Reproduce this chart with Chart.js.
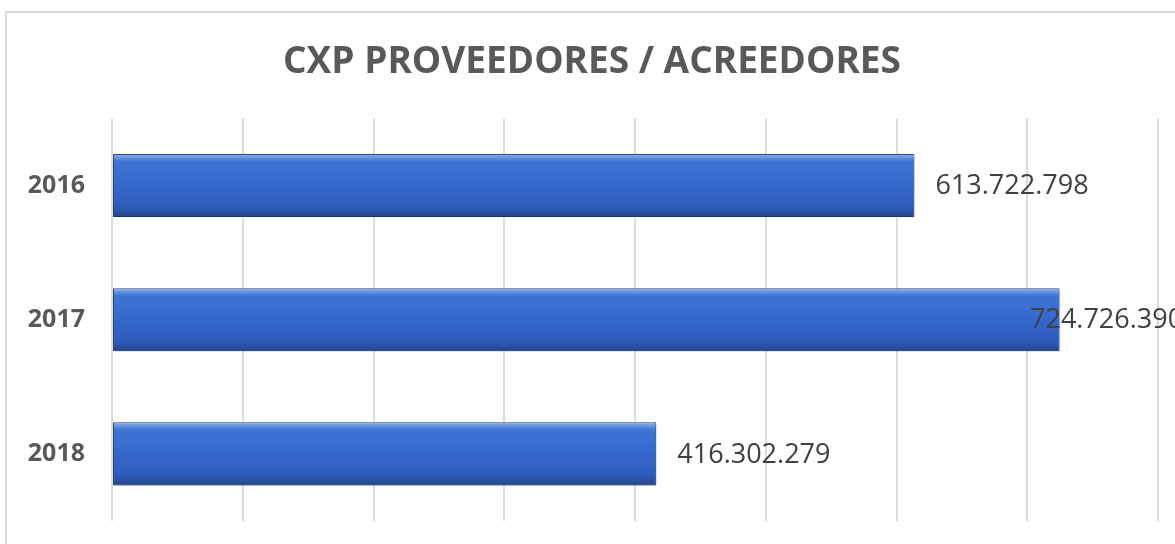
<!DOCTYPE html>
<html lang="es">
  <head>
    <meta charset="UTF-8" />
    <title>CXP Proveedores / Acreedores</title>
    <script src="https://cdn.jsdelivr.net/npm/chart.js"></script>
    <style>
      body {
        margin: 0;
        padding: 0;
        background-color: #fff;
        overflow: hidden;
        font-family: "Open Sans", sans-serif;
      }

      .frame {
        position: absolute;
        left: 5px;
        top: 11px;
        width: 1300px;
        height: 700px;
        border: 2px solid #d9d9d9;
      }

      .chart-container {
        position: absolute;
        left: 0;
        top: 0;
        width: 1175px;
        height: 544px;
      }
    </style>
  </head>
  <body>
    <div class="frame"></div>
    <div class="chart-container">
      <canvas id="cxp-chart" width="1175" height="544"></canvas>
    </div>

    <script>
      const years = ["2016", "2017", "2018"];
      const amounts = [613722798, 724726390, 416302279];
      const axisMax = 800000000;
      const axisStep = 100000000;

      const BAR_PCT = 0.47;
      const CAT_PCT = 1;

      function formatAmount(v) {
        return String(v).replace(/\B(?=(\d{3})+(?!\d))/g, ".");
      }

      function barGradient(c) {
        const chart = c.chart;
        if (!chart.chartArea) return "#3366cc";
        const ys = chart.scales.y;
        const band = (ys.bottom - ys.top) / years.length;
        const thick = band * CAT_PCT * BAR_PCT;
        const cy = ys.getPixelForValue(c.dataIndex);
        const g = chart.ctx.createLinearGradient(0, cy - thick / 2, 0, cy + thick / 2);
        g.addColorStop(0, "#8db3f0");
        g.addColorStop(0.05, "#6a98e6");
        g.addColorStop(0.12, "#3f74d6");
        g.addColorStop(0.5, "#3568cc");
        g.addColorStop(0.84, "#2e5cbb");
        g.addColorStop(0.93, "#2a4f9e");
        g.addColorStop(1, "#22427f");
        return g;
      }

      // soft shadow under the bars
      const barShadow = {
        id: "barShadow",
        beforeDatasetsDraw(chart) {
          const ctx = chart.ctx;
          ctx.save();
          ctx.shadowColor = "rgba(0, 0, 0, 0.35)";
          ctx.shadowBlur = 4;
          ctx.shadowOffsetX = 1;
          ctx.shadowOffsetY = 3;
        },
        afterDatasetsDraw(chart) {
          chart.ctx.restore();
        },
      };

      // value labels at the end of each bar
      const valueLabels = {
        id: "valueLabels",
        afterDraw(chart) {
          const ctx = chart.ctx;
          const meta = chart.getDatasetMeta(0);
          ctx.save();
          ctx.font = "27px 'Open Sans', sans-serif";
          ctx.fillStyle = "#404040";
          ctx.textAlign = "left";
          ctx.textBaseline = "middle";
          meta.data.forEach((bar, i) => {
            const x = Math.min(bar.x + 21, chart.width - 145);
            ctx.fillText(formatAmount(amounts[i]), x, bar.y + 1);
          });
          ctx.restore();
        },
      };

      new Chart(document.getElementById("cxp-chart"), {
        type: "bar",
        data: {
          labels: years,
          datasets: [
            {
              label: "CXP",
              data: amounts,
              backgroundColor: barGradient,
              borderColor: "#2b4b8c",
              borderWidth: 1,
              borderSkipped: false,
              barPercentage: BAR_PCT,
              categoryPercentage: CAT_PCT,
            },
          ],
        },
        options: {
          indexAxis: "y",
          responsive: false,
          animation: false,
          layout: {
            autoPadding: false,
            padding: { left: 26, right: 17, top: 0, bottom: 23 },
          },
          plugins: {
            legend: { display: false },
            tooltip: { enabled: false },
            title: {
              display: true,
              text: "CXP PROVEEDORES / ACREEDORES",
              color: "#595959",
              font: { family: "'Open Sans', sans-serif", size: 37, weight: "bold", lineHeight: 1.2 },
              padding: { top: 40, bottom: 34 },
            },
          },
          scales: {
            x: {
              min: 0,
              max: axisMax,
              afterFit(scale) {
                scale.height = 0;
                scale.paddingLeft = 0;
                scale.paddingRight = 0;
              },
              ticks: { display: false, stepSize: axisStep },
              grid: { color: "#dcdcdc", lineWidth: 2, drawTicks: false },
              border: { display: false },
            },
            y: {
              afterFit(scale) {
                scale.width = 86;
                scale.paddingTop = 0;
                scale.paddingBottom = 0;
              },
              ticks: {
                color: "#595959",
                padding: 27,
                font: { family: "'Open Sans', sans-serif", size: 25, weight: "bold" },
              },
              grid: { display: false, drawTicks: false },
              border: { display: false },
            },
          },
        },
        plugins: [barShadow, valueLabels],
      });
    </script>
  </body>
</html>
